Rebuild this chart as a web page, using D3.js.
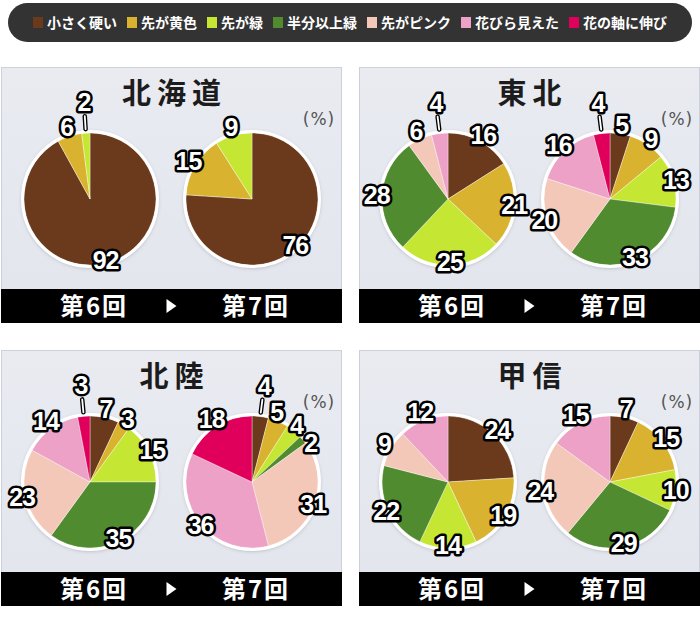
<!DOCTYPE html>
<html>
<head>
<meta charset="utf-8">
<script src="https://cdn.jsdelivr.net/npm/d3@7"></script>
<style>
  body { margin: 0; background: #fff; }
  svg { display: block; }
  .legend-text { font-family: "Noto Sans CJK JP", sans-serif; font-weight: 700; font-size: 14px; fill: #fff; }
  .title { font-family: "Noto Sans CJK JP", sans-serif; font-weight: 700; font-size: 29px; fill: #1c1c1c; }
  .unit { font-family: "DejaVu Sans", sans-serif; font-size: 17px; fill: #555; letter-spacing: 1px; }
  .round { font-family: "Noto Sans CJK JP", sans-serif; font-weight: 700; font-size: 24px; fill: #fff; letter-spacing: 2px; }
  .val {
    font-family: "Liberation Sans", Arial, sans-serif; font-weight: 700; font-size: 25px;
    fill: #fff; stroke: #000; stroke-width: 5px; stroke-linejoin: round; paint-order: stroke;
    letter-spacing: -1px;
  }
</style>
</head>
<body>
<svg id="chart" width="700" height="619"></svg>
<script>
// 開花段階（凡例順）
const categories = ["小さく硬い", "先が黄色", "先が緑", "半分以上緑", "先がピンク", "花びら見えた", "花の軸に伸び"];
const colors = ["#6b3a1c", "#d9b22f", "#c5e734", "#518b2f", "#f3c8b9", "#eda1c7", "#e0005c"];

const regions = ["北海道", "東北", "北陸", "甲信"];
const roundLabels = ["第6回", "第7回"];

// 各地域の割合（%）、categories と同じ並び
const round6 = [
  [92, 6, 2, 0, 0, 0, 0],
  [16, 21, 25, 28, 6, 4, 0],
  [7, 3, 15, 35, 23, 14, 3],
  [24, 19, 14, 22, 9, 12, 0]
];
const round7 = [
  [76, 15, 9, 0, 0, 0, 0],
  [5, 9, 13, 33, 20, 16, 4],
  [4, 5, 4, 2, 31, 36, 18],
  [7, 15, 10, 29, 24, 15, 0]
];

const svg = d3.select("#chart");

// 影
const defs = svg.append("defs");
const shadow = defs.append("filter").attr("id", "shadow")
  .attr("x", "-20%").attr("y", "-20%").attr("width", "140%").attr("height", "140%");
shadow.append("feDropShadow")
  .attr("dx", 0).attr("dy", 1).attr("stdDeviation", 2)
  .attr("flood-color", "#000").attr("flood-opacity", 0.3);

const panelGrad = defs.append("linearGradient").attr("id", "panelBg")
  .attr("x1", 0).attr("y1", 0).attr("x2", 0).attr("y2", 1);
panelGrad.append("stop").attr("offset", "0%").attr("stop-color", "#e9ebf1");
panelGrad.append("stop").attr("offset", "100%").attr("stop-color", "#e2e5ed");

// ---- 凡例 ----
const legend = svg.append("g");
legend.append("rect")
  .attr("x", 8).attr("y", 3).attr("width", 684).attr("height", 39)
  .attr("rx", 19.5).attr("fill", "#333");

const items = legend.append("g");
let lx = 0;
categories.forEach((c, i) => {
  const g = items.append("g").attr("transform", `translate(${lx},0)`);
  g.append("rect").attr("x", 0).attr("y", 17).attr("width", 10).attr("height", 11)
    .attr("fill", colors[i]);
  const t = g.append("text").attr("class", "legend-text")
    .attr("x", 14).attr("y", 28).text(c);
  lx += 14 + t.node().getComputedTextLength() + 10;
});
const legW = lx - 10;
items.attr("transform", `translate(${350 - legW / 2},0)`);

// ---- パネル ----
const panelW = 341, panelH = 256, barH = 34;
const panelX = [1, 359], panelY = [67, 350];
const pieCx = [89, 251], pieCy = 132;
const R = 66;

const pie = d3.pie().sort(null).value(d => d.value);
const arc = d3.arc().innerRadius(0).outerRadius(R);

const mid = d => (d.startAngle + d.endAngle) / 2;
const polar = (a, r) => [Math.sin(a) * r, -Math.cos(a) * r];
const needsLeader = d => {
  const a = mid(d);
  return d.data.value < 5 && (a < 0.45 || a > 2 * Math.PI - 0.45);
};
// 上は少し外側、下と右は少し内側
const labelRadius = a => R + 3 + 6 * Math.cos(a) - 2 * Math.sin(a);

// 近すぎるラベルの角度を広げる
function spreadAngles(list, minSep) {
  for (let it = 0; it < 30; it++) {
    for (let i = 0; i < list.length - 1; i++) {
      const a = list[i], b = list[i + 1];
      const gap = b.angle - a.angle;
      if (gap < minSep) {
        const push = (minSep - gap) / 2;
        a.angle -= push;
        b.angle += push;
      }
    }
  }
}

function drawPie(g, values) {
  const data = values.map((v, i) => ({ value: v, color: colors[i] })).filter(d => d.value > 0);
  const arcs = pie(data);

  g.append("circle").attr("r", R + 1.5).attr("fill", "#fff").attr("filter", "url(#shadow)");

  g.selectAll("path.slice").data(arcs).join("path")
    .attr("class", "slice")
    .attr("d", arc)
    .attr("fill", d => d.data.color)
    .attr("stroke", "rgba(255,255,255,0.45)")
    .attr("stroke-width", 0.8);

  g.append("circle").attr("r", R + 1.5).attr("fill", "none")
    .attr("stroke", "#fff").attr("stroke-width", 3);

  // 引き出し線
  const leaders = arcs.filter(needsLeader);
  [["#000", 4.5], ["#fff", 1.8]].forEach(([col, w]) => {
    g.selectAll(null).data(leaders).join("line")
      .each(function (d) {
        const a = mid(d);
        const p0 = polar(a, R + 4), p1 = polar(a, R + 17);
        d3.select(this).attr("x1", p0[0]).attr("y1", p0[1]).attr("x2", p1[0]).attr("y2", p1[1]);
      })
      .attr("stroke", col).attr("stroke-width", w).attr("stroke-linecap", "round");
  });

  const labels = arcs.map(d => ({ d, angle: mid(d), leader: needsLeader(d) }));
  spreadAngles(labels.filter(l => !l.leader), 0.32);

  g.selectAll("text.val").data(labels).join("text")
    .attr("class", "val")
    .attr("transform", l => {
      const p = l.leader ? polar(l.angle, R + 31) : polar(l.angle, labelRadius(l.angle));
      return `translate(${p[0]},${p[1]})`;
    })
    .attr("text-anchor", "middle")
    .attr("dy", "0.36em")
    .text(l => l.d.data.value);
}

regions.forEach((name, i) => {
  const px = panelX[i % 2], py = panelY[Math.floor(i / 2)];
  const p = svg.append("g").attr("transform", `translate(${px},${py})`);

  p.append("rect").attr("x", 0.5).attr("y", 0.5)
    .attr("width", panelW - 1).attr("height", panelH - 1)
    .attr("fill", "url(#panelBg)").attr("stroke", "#ccd0da");

  p.append("text").attr("class", "title")
    .attr("x", panelW / 2 + 3).attr("y", 37)
    .attr("text-anchor", "middle")
    .attr("letter-spacing", 6)
    .text(name);

  p.append("text").attr("class", "unit")
    .attr("x", 318).attr("y", 58).attr("text-anchor", "middle")
    .text("(%)");

  drawPie(p.append("g").attr("transform", `translate(${pieCx[0]},${pieCy})`), round6[i]);
  drawPie(p.append("g").attr("transform", `translate(${pieCx[1]},${pieCy})`), round7[i]);

  // 下の帯
  p.append("rect").attr("x", 0).attr("y", panelH - barH)
    .attr("width", panelW).attr("height", barH).attr("fill", "#000");
  roundLabels.forEach((r, k) => {
    p.append("text").attr("class", "round")
      .attr("x", pieCx[k] + 4).attr("y", panelH - barH / 2 + 9)
      .attr("text-anchor", "middle")
      .text(r);
  });
  const tx = panelW / 2 - 5, ty = panelH - barH / 2;
  p.append("path")
    .attr("d", `M${tx},${ty - 7}L${tx + 10},${ty}L${tx},${ty + 7}Z`)
    .attr("fill", "#fff");
});
</script>
</body>
</html>
